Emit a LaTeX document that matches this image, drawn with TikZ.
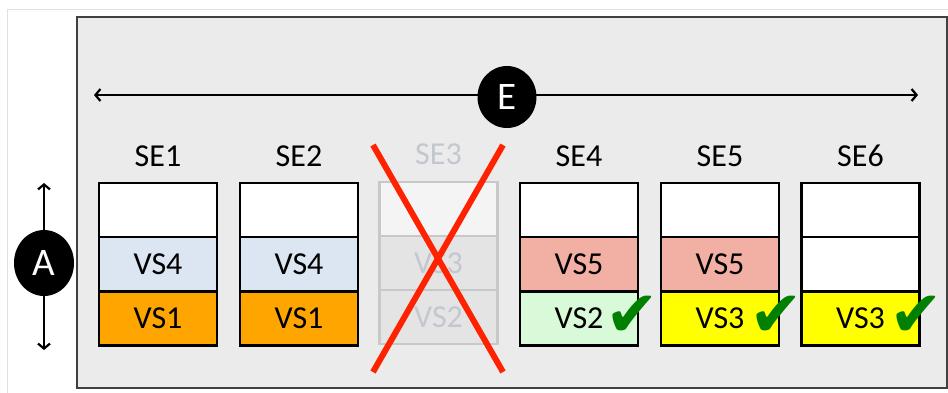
\documentclass[tikz,border=0pt]{standalone}
\usepackage{fontspec}
\setmainfont{Carlito}
\newfontfamily\symfont{DejaVu Sans}
\usetikzlibrary{arrows.meta,shapes.geometric}
\definecolor{panel}{HTML}{EBEBEB}
\definecolor{panelline}{HTML}{404040}
\definecolor{vsfour}{HTML}{DCE6F2}
\definecolor{vsone}{HTML}{FFA500}
\definecolor{vsfive}{HTML}{F2B0A5}
\definecolor{vstwo}{HTML}{D8FAD8}
\definecolor{vsthree}{HTML}{FFFF00}
\definecolor{ghostline}{HTML}{C8C8C8}
\definecolor{ghosttop}{HTML}{F4F4F4}
\definecolor{ghostcell}{HTML}{E4E4E4}
\definecolor{ghosttext}{HTML}{C3C8D0}
\definecolor{crossred}{HTML}{FF2200}
\definecolor{checkgreen}{HTML}{008000}
\tikzset{
  cell/.style={draw=black, line width=2.5pt, minimum width=118pt, minimum height=54pt,
    inner sep=0pt, font=\fontsize{32}{34}\selectfont, text=black},
  ghost/.style={cell, draw=ghostline, text=ghosttext},
  selabel/.style={font=\fontsize{32}{34}\selectfont, inner sep=0pt},
  marker/.style={ellipse, fill=black, text=white, inner sep=0pt,
    font=\fontsize{39}{40}\selectfont},
  span/.style={line width=1.3pt, {Straight Barb[length=5pt,width=12pt,line width=2.2pt]}-{Straight Barb[length=5pt,width=12pt,line width=2.2pt]}},
  tick/.style={text=checkgreen, font=\symfont\fontsize{64}{64}\selectfont, inner sep=0pt},
  cross/.style={draw=crossred, line width=6pt}
}
\begin{document}
\begin{tikzpicture}[x=1pt,y=-1pt]
\useasboundingbox (0,0) rectangle (948,392);
\fill[white] (0,0) rectangle (948,392);
\draw[draw={rgb,255:red,225;green,225;blue,225}, line width=1pt] (7,9) rectangle (980,420);
\draw[fill=panel, draw=panelline, line width=1.5pt] (77,17) rectangle (947,388);

% E arrow
\coordinate (eL) at (94,95);
\coordinate (eR) at (918,95);
\draw[span] (eL) -- (eR);
\node[marker, minimum width=59pt, minimum height=62pt] (E) at (507,97) {E};

% A arrow
\coordinate (aT) at (44,183);
\coordinate (aB) at (44,350);
\draw[span] (aT) -- (aB);
\node[marker, minimum width=60pt, minimum height=66pt] (A) at (44,263) {A};

% SE1
\node[selabel] (se1) at (158,156) {SE1};
\node[cell, fill=white] (se1a) at (158,210) {};
\node[cell, fill=vsfour] (se1b) at (158,264) {VS4};
\node[cell, fill=vsone] (se1c) at (158,318.5) {VS1};
% SE2
\node[selabel] (se2) at (299,156) {SE2};
\node[cell, fill=white] (se2a) at (299,210) {};
\node[cell, fill=vsfour] (se2b) at (299,264) {VS4};
\node[cell, fill=vsone] (se2c) at (299,318.5) {VS1};
% SE3 (ghost)
\node[selabel, text=ghosttext] (se3) at (438.5,154) {SE3};
\node[ghost, fill=ghosttop] (se3a) at (438.5,209) {};
\node[ghost, fill=ghostcell] (se3b) at (438.5,263) {VS3};
\node[ghost, fill=ghostcell] (se3c) at (438.5,317) {VS2};
% SE4
\node[selabel] (se4) at (579,156) {SE4};
\node[cell, fill=white] (se4a) at (579,210) {};
\node[cell, fill=vsfive] (se4b) at (579,264) {VS5};
\node[cell, fill=vstwo] (se4c) at (579,318.5) {VS2};
% SE5
\node[selabel] (se5) at (720,156) {SE5};
\node[cell, fill=white] (se5a) at (720,210) {};
\node[cell, fill=vsfive] (se5b) at (720,264) {VS5};
\node[cell, fill=vsthree] (se5c) at (720,318.5) {VS3};
% SE6
\node[selabel] (se6) at (860.5,156) {SE6};
\node[cell, fill=white] (se6a) at (860.5,210) {};
\node[cell, fill=white] (se6b) at (860.5,264) {};
\node[cell, fill=vsthree] (se6c) at (860.5,318.5) {VS3};

% checks
\node[tick] (t4) at (632,316) {✔};
\node[tick] (t5) at (776,316) {✔};
\node[tick] (t6) at (916,316) {✔};

% cross
\coordinate (x1) at (373,145);
\coordinate (x2) at (503,372);
\coordinate (x3) at (503,145);
\coordinate (x4) at (373,372);
\draw[cross] (x1) -- (x2);
\draw[cross] (x3) -- (x4);
\end{tikzpicture}
\end{document}
